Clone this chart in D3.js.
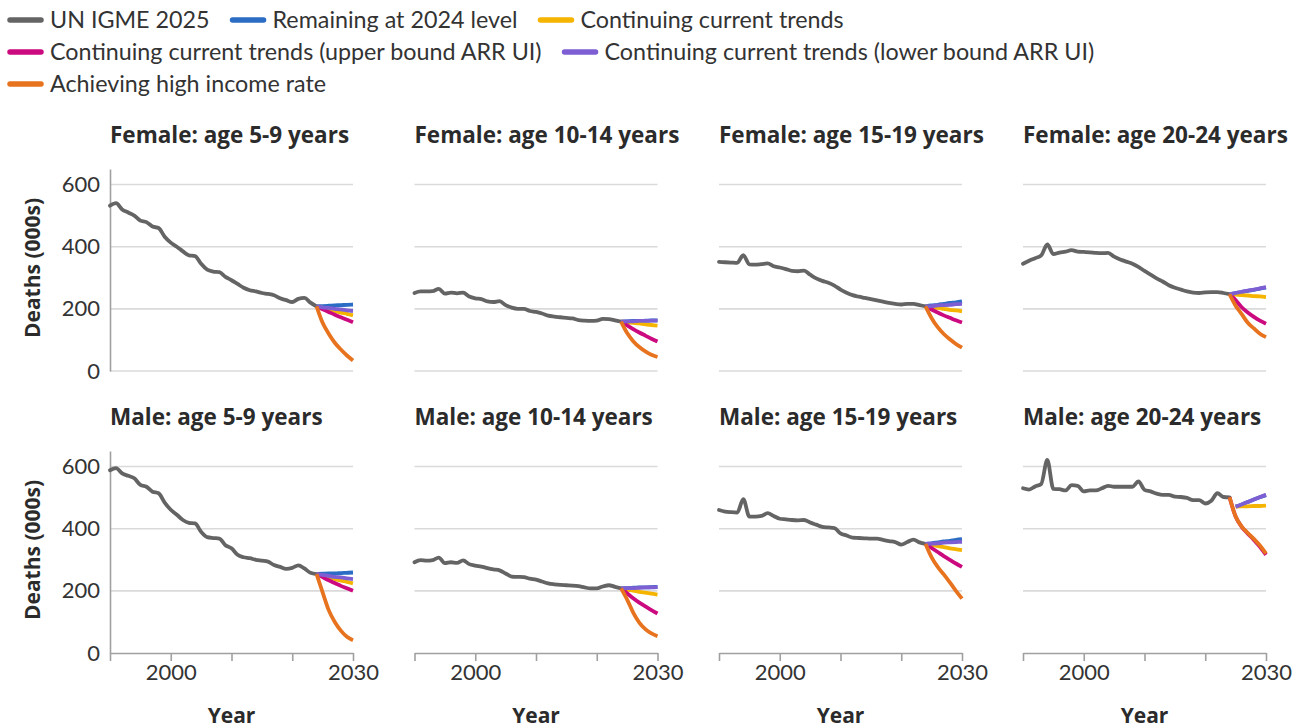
<!DOCTYPE html>
<html>
<head>
<meta charset="utf-8">
<script src="https://cdn.jsdelivr.net/npm/d3@7"></script>
<style>
  body { margin: 0; background: #fff; }
  svg { display: block; }
  text { font-family: Lato, "Noto Sans", sans-serif; fill: #333; }
  .bold { font-family: "Open Sans", "Noto Sans", sans-serif; font-weight: 700; fill: #2b2b2b; }
</style>
</head>
<body>
<svg id="chart" width="1294" height="728"></svg>
<script>
// ---- Data: deaths (thousands), UN IGME 2025 estimates 1990-2024 and scenarios 2024-2030 ----
const obsYears = d3.range(1990, 2025);
const projYears = [2024, 2025, 2026, 2027, 2028, 2029, 2030];

const seriesNames = [
  "UN IGME 2025",
  "Remaining at 2024 level",
  "Continuing current trends",
  "Continuing current trends (upper bound ARR UI)",
  "Continuing current trends (lower bound ARR UI)",
  "Achieving high income rate"
];
const seriesColors = ["#646464", "#2b6cc4", "#f5b400", "#cc0a7f", "#7d5fd3", "#e8731f"];

const panelTitles = [
  "Female: age 5-9 years", "Female: age 10-14 years", "Female: age 15-19 years", "Female: age 20-24 years",
  "Male: age 5-9 years", "Male: age 10-14 years", "Male: age 15-19 years", "Male: age 20-24 years"
];

const yTicks = [0, 200, 400, 600];
const xTicks = [1990, 2000, 2010, 2020, 2030];
const xLabels = [2000, 2030];

// Female 5-9
const f5_igme = [532,540,520,510,500,484,479,465,460,432,413,400,385,372,370,345,326,320,318,303,292,280,268,260,256,251,248,244,234,228,222,232,235,220,208];
const f5_level = [208,209,210,211,212,213,214];
const f5_trend = [208,203,198,193,188,184,179];
const f5_upper = [208,199,190,181,173,165,157];
const f5_lower = [208,205,203,200,198,195,193];
const f5_high  = [208,155,120,91,69,50,34];

// Female 10-14
const f10_igme = [251,256,256,257,264,249,252,250,252,240,234,231,224,222,225,212,204,200,200,193,190,185,178,175,173,171,169,164,162,161,162,168,167,163,159];
const f10_level = [159,160,161,161,162,163,163];
const f10_trend = [159,157,155,153,150,148,146];
const f10_upper = [159,147,135,124,114,104,95];
const f10_lower = [159,160,160,161,161,162,162];
const f10_high  = [159,122,96,77,63,52,45];

// Female 15-19
const f15_igme = [351,350,349,348,373,343,342,344,346,337,333,328,322,321,323,310,298,290,284,275,262,252,244,239,235,231,227,223,219,216,214,216,216,212,208];
const f15_level = [208,211,213,216,219,221,224];
const f15_trend = [208,205,203,200,197,195,192];
const f15_upper = [208,198,188,179,171,163,156];
const f15_lower = [208,209,211,212,213,215,216];
const f15_high  = [208,170,141,119,102,87,75];

// Female 20-24
const f20_igme = [345,355,363,372,407,376,381,384,389,384,383,382,380,379,380,368,359,352,345,335,322,310,298,288,276,268,262,256,252,251,253,254,254,251,247];
const f20_level = [247,251,254,258,261,265,268];
const f20_trend = [247,246,244,243,241,240,238];
const f20_upper = [247,228,205,188,174,162,152];
const f20_lower = [247,251,255,259,262,266,270];
const f20_high  = [247,210,183,155,137,120,109];

// Male 5-9
const m5_igme = [588,595,578,570,562,541,535,519,514,484,461,445,428,419,417,390,373,370,368,347,337,316,308,305,300,297,294,283,277,271,274,282,272,258,254];
const m5_level = [254,255,256,256,257,258,259];
const m5_trend = [254,249,243,238,233,229,224];
const m5_upper = [254,244,234,225,216,208,200];
const m5_lower = [254,251,248,245,243,240,238];
const m5_high  = [254,195,138,100,72,52,41];

// Male 10-14
const m10_igme = [292,299,297,299,307,289,292,290,298,286,281,278,273,269,266,256,246,245,244,239,236,230,224,221,219,218,217,215,211,208,208,214,218,213,208];
const m10_level = [208,209,210,211,211,212,213];
const m10_trend = [208,204,201,197,194,191,188];
const m10_upper = [208,192,176,162,150,138,127];
const m10_lower = [208,209,209,210,211,211,212];
const m10_high  = [208,172,130,98,77,63,54];

// Male 15-19
const m15_igme = [460,455,453,452,495,439,439,441,450,441,432,430,428,427,428,420,413,406,404,402,385,378,371,370,369,368,368,364,360,357,349,357,365,356,351];
const m15_level = [351,353,356,359,361,364,366];
const m15_trend = [351,348,344,341,337,334,331];
const m15_upper = [351,338,325,312,300,288,277];
const m15_lower = [351,352,353,355,356,357,358];
const m15_high  = [351,308,277,253,227,200,175];

// Male 20-24
const m20_igme = [530,526,536,544,621,528,527,523,540,538,520,523,523,530,538,535,535,535,535,552,525,520,513,509,509,503,502,499,492,492,481,490,514,502,501];
const m20_level = [null,471,478,486,494,501,508];
const m20_trend = [null,471,472,472,473,473,474];
const m20_upper = [501,439,406,384,364,342,316];
const m20_lower = [null,471,478,486,494,502,509];
const m20_high  = [501,439,407,386,367,346,320];

const panelObs = [f5_igme, f10_igme, f15_igme, f20_igme, m5_igme, m10_igme, m15_igme, m20_igme];
const panelProj = [
  [f5_level, f5_trend, f5_upper, f5_lower, f5_high],
  [f10_level, f10_trend, f10_upper, f10_lower, f10_high],
  [f15_level, f15_trend, f15_upper, f15_lower, f15_high],
  [f20_level, f20_trend, f20_upper, f20_lower, f20_high],
  [m5_level, m5_trend, m5_upper, m5_lower, m5_high],
  [m10_level, m10_trend, m10_upper, m10_lower, m10_high],
  [m15_level, m15_trend, m15_upper, m15_lower, m15_high],
  [m20_level, m20_trend, m20_upper, m20_lower, m20_high]
];

// ---- Layout ----
const svg = d3.select("#chart");
const panelW = 243, panelH = 202;
const colX = [110, 414.5, 719, 1023];
const rowY = [169, 451];

const x = d3.scaleLinear().domain([1990, 2030]).range([0, panelW]);
const y = d3.scaleLinear().domain([0, 650]).range([panelH, 0]);

const line = d3.line()
  .defined(d => d[1] != null)
  .x(d => x(d[0]))
  .y(d => y(d[1]))
  .curve(d3.curveMonotoneX);

// ---- Legend (flowing rows) ----
const legend = svg.append("g").attr("class", "legend");
let lx = 8, ly = 20;
const legendMaxX = 1290;
seriesNames.forEach((name, i) => {
  const g = legend.append("g");
  const t = g.append("text")
    .attr("x", 42).attr("y", 0).attr("dy", "0.35em")
    .style("font-size", "23.3px")
    .text(name);
  const w = 42 + t.node().getComputedTextLength();
  if (lx + w > legendMaxX) { lx = 8; ly += 32; }
  g.attr("transform", `translate(${lx},${ly})`);
  g.insert("line", "text")
    .attr("x1", 2).attr("x2", 33).attr("y1", 0).attr("y2", 0)
    .attr("stroke", seriesColors[i]).attr("stroke-width", 5.5)
    .attr("stroke-linecap", "round");
  lx += w + 21;
});

// ---- Panels ----
panelTitles.forEach((title, p) => {
  const row = Math.floor(p / 4), col = p % 4;
  const g = svg.append("g").attr("transform", `translate(${colX[col]},${rowY[row]})`);

  // title
  g.append("text").attr("class", "bold")
    .attr("x", 0).attr("y", -26)
    .style("font-size", "22.5px")
    .text(title);

  // gridlines
  const gridVals = row === 0 ? yTicks : yTicks.filter(v => v > 0);
  g.append("g").selectAll("line").data(gridVals).join("line")
    .attr("x1", 0).attr("x2", panelW)
    .attr("y1", d => y(d)).attr("y2", d => y(d))
    .attr("stroke", "#dadada").attr("stroke-width", 1.6);

  // y axis on first column
  if (col === 0) {
    const ya = g.append("g").call(d3.axisLeft(y).tickValues(yTicks).tickSize(0).tickPadding(10));
    ya.select(".domain").attr("stroke", "#a0a0a0").attr("stroke-width", 1.6);
    ya.selectAll("text").style("font-size", "22px").style("fill", "#333").attr("font-family", null);
    g.append("text").attr("class", "bold")
      .attr("transform", `translate(-77,${panelH / 2 - 2}) rotate(-90)`)
      .attr("text-anchor", "middle").attr("dy", "0.35em")
      .style("font-size", "21px")
      .text("Deaths (000s)");
  }

  // x axis on bottom row
  if (row === 1) {
    const xa = g.append("g").attr("transform", `translate(0,${panelH})`)
      .call(d3.axisBottom(x).tickValues(xTicks).tickSize(8).tickSizeOuter(0).tickPadding(3)
        .tickFormat(d => xLabels.includes(d) ? String(d) : ""));
    xa.select(".domain").attr("stroke", "#a0a0a0").attr("stroke-width", 1.6);
    xa.selectAll(".tick line").attr("stroke", "#a0a0a0").attr("stroke-width", 1.6);
    xa.selectAll("text").style("font-size", "22px").style("fill", "#333").attr("font-family", null);
    g.append("text").attr("class", "bold")
      .attr("x", panelW / 2).attr("y", 272)
      .attr("text-anchor", "middle")
      .style("font-size", "21px")
      .text("Year");
  }

  // observed series
  g.append("path")
    .datum(obsYears.map((yr, i) => [yr, panelObs[p][i]]))
    .attr("d", line)
    .attr("fill", "none").attr("stroke", seriesColors[0])
    .attr("stroke-width", 3.8).attr("stroke-linejoin", "round").attr("stroke-linecap", "round");

  // scenario series
  panelProj[p].forEach((vals, s) => {
    g.append("path")
      .datum(projYears.map((yr, i) => [yr, vals[i]]))
      .attr("d", line)
      .attr("fill", "none").attr("stroke", seriesColors[s + 1])
      .attr("stroke-width", 3.8).attr("stroke-linejoin", "round");
  });
});
</script>
</body>
</html>
